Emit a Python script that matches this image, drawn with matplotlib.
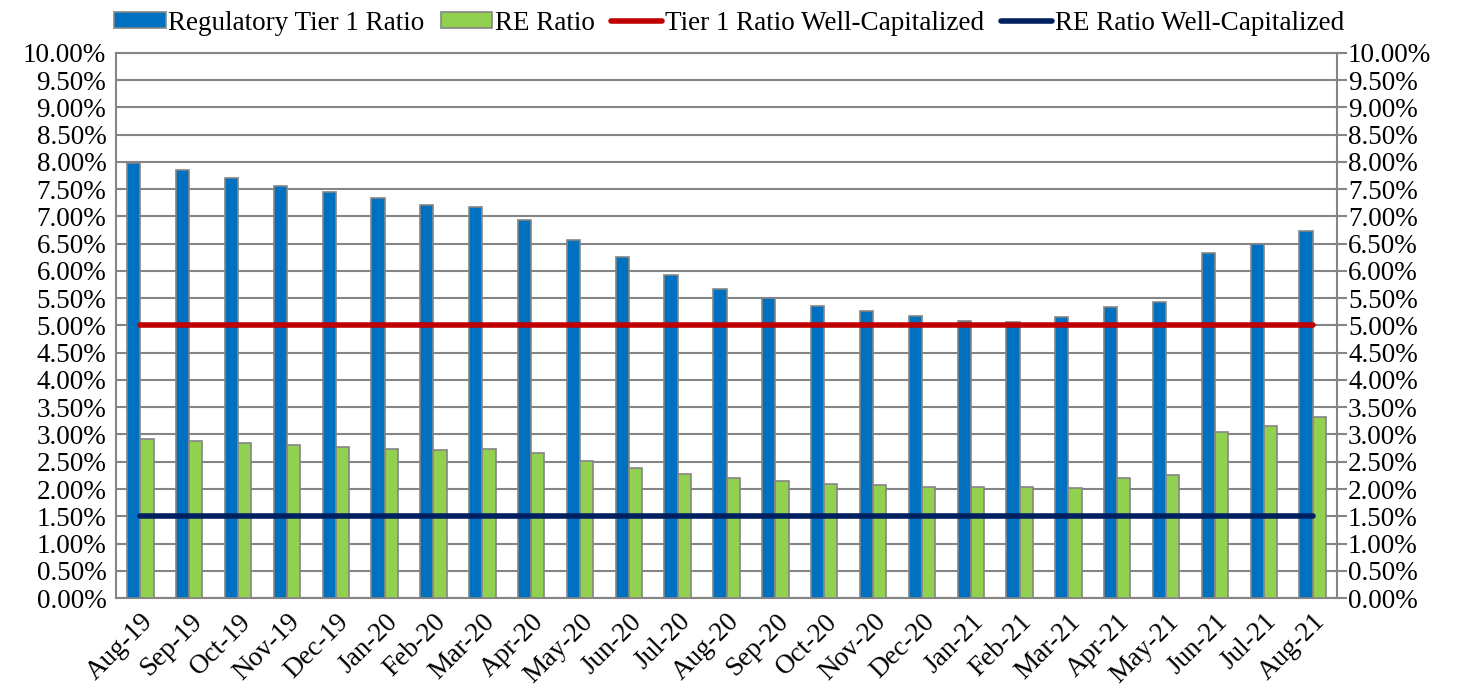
import matplotlib.pyplot as plt
import numpy as np
from matplotlib.ticker import FuncFormatter, MultipleLocator

plt.rcParams["font.family"] = ["Liberation Serif", "DejaVu Serif"]

# data -------------------------------------------------------------------------

months = [
    "Aug-19", "Sep-19", "Oct-19", "Nov-19", "Dec-19", "Jan-20", "Feb-20",
    "Mar-20", "Apr-20", "May-20", "Jun-20", "Jul-20", "Aug-20", "Sep-20",
    "Oct-20", "Nov-20", "Dec-20", "Jan-21", "Feb-21", "Mar-21", "Apr-21",
    "May-21", "Jun-21", "Jul-21", "Aug-21",
]
tier1_ratio = [
    7.99, 7.85, 7.70, 7.56, 7.45, 7.34, 7.21, 7.18, 6.94, 6.56, 6.25, 5.93,
    5.67, 5.50, 5.36, 5.26, 5.17, 5.09, 5.07, 5.15, 5.34, 5.44, 6.33, 6.50,
    6.73,
]
re_ratio = [
    2.92, 2.88, 2.84, 2.80, 2.77, 2.74, 2.71, 2.73, 2.66, 2.52, 2.39, 2.27,
    2.20, 2.15, 2.09, 2.07, 2.04, 2.03, 2.04, 2.02, 2.20, 2.25, 3.05, 3.15,
    3.33,
]
tier1_well_cap = 5.0
re_well_cap = 1.5

# plot -------------------------------------------------------------------------

fig = plt.figure(figsize=(14.58, 6.88), dpi=100)
ax = fig.add_axes([0.0796, 0.1308, 0.8374, 0.7922])

x = np.arange(len(months))
bw = 0.27
edge = "#858585"
b1 = ax.bar(x - bw / 2, tier1_ratio, bw, color="#0070C0", edgecolor=edge,
            linewidth=1.2, label="Regulatory Tier 1 Ratio", zorder=3)
b2 = ax.bar(x + bw / 2, re_ratio, bw, color="#92D050", edgecolor=edge,
            linewidth=1.2, label="RE Ratio", zorder=3)
l1, = ax.plot(x, [tier1_well_cap] * len(x), color="#C00000", lw=4,
              solid_capstyle="round", label="Tier 1 Ratio Well-Capitalized",
              zorder=4)
l2, = ax.plot(x, [re_well_cap] * len(x), color="#002060", lw=4,
              solid_capstyle="round", label="RE Ratio Well-Capitalized",
              zorder=4)

ax.set_xlim(-0.5, len(x) - 0.5)
ax.set_ylim(0, 10)
ax.yaxis.set_major_locator(MultipleLocator(0.5))
pct = FuncFormatter(lambda v, p: f"{v:.2f}%")
ax.yaxis.set_major_formatter(pct)
ax.grid(axis="y", color="#858585", lw=1.5, zorder=0)
ax.set_axisbelow(True)

for s in ax.spines.values():
    s.set_color("#858585")
    s.set_linewidth(1.5)

ax.set_xticks(x)
ax.set_xticklabels(months, rotation=45, ha="right", rotation_mode="anchor",
                   fontsize=19.5)
ax.tick_params(axis="x", length=0, pad=8)
ax.tick_params(axis="y", length=0, labelsize=19.5, pad=7)

ax2 = ax.twinx()
ax2.set_ylim(0, 10)
ax2.yaxis.set_major_locator(MultipleLocator(0.5))
ax2.yaxis.set_major_formatter(pct)
ax2.tick_params(axis="y", length=7, width=1.5, color="#858585",
                labelsize=19.5, pad=1)
for s in ax2.spines.values():
    s.set_visible(False)

fig.legend(handles=[b1, b2, l1, l2], loc="center",
           bbox_to_anchor=(0.5, 0.966), ncol=4, frameon=False,
           fontsize=19.5, handlelength=1.9, handleheight=0.55,
           handletextpad=0.1, columnspacing=0.6, borderaxespad=0)

fig.savefig("out.png", dpi=100)
